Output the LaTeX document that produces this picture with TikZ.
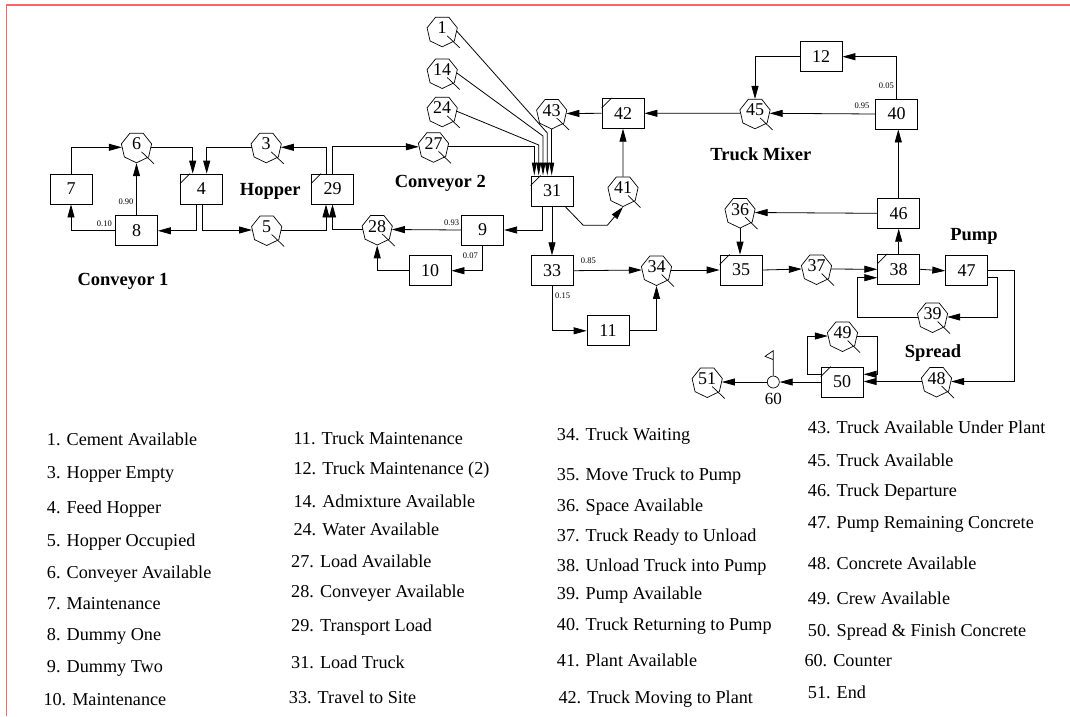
\documentclass[tikz,border=0pt]{standalone}
\usepackage{fontspec}
\setmainfont{Liberation Serif}
\usetikzlibrary{shapes.geometric,arrows.meta}
\begin{document}
\begin{tikzpicture}[x=1pt,y=-1pt,
  box/.style={draw, line width=0.8pt, minimum width=42pt, minimum height=30pt, inner sep=0pt, font=\fontsize{18}{18}\selectfont},
  hep/.style={draw, line width=0.7pt, regular polygon, regular polygon sides=7, regular polygon rotate=180, minimum size=31pt, inner sep=0pt, text height=12pt, text depth=6.8pt, font=\fontsize{18}{18}\selectfont},
  arr/.style={line width=0.8pt, -{Triangle[length=13pt,width=7pt]}},
  arrn/.style={line width=0.8pt, -{Triangle[length=13pt,width=4.8pt]}},
  lnk/.style={line width=0.8pt},
  prob/.style={font=\fontsize{8.5}{8.5}\selectfont, anchor=base west, inner sep=0pt},
  ttl/.style={font=\bfseries\fontsize{18.5}{18.5}\selectfont, anchor=base, inner sep=0pt},
  leg/.style={font=\fontsize{18.2}{18.2}\selectfont, anchor=base west, inner sep=0pt},
  frame/.style={draw=red!60, line width=1.4pt}
]
\useasboundingbox (0,0) rectangle (1070,716);
\draw[frame] (1070,5) -- (6.7,5) -- (6.7,716);

% boxes
\node[box] (b7)  at (71,189) {7};
\node[box] (b4)  at (201.3,189) {4};
\node[box] (b29) at (332.5,189) {29};
\node[box] (b8)  at (136.5,230.8) {8};
\node[box] (b31) at (552,191) {31};
\node[box] (b9)  at (482.7,230) {9};
\node[box] (b10) at (430,270.7) {10};
\node[box] (b33) at (552,270.7) {33};
\node[box] (b11) at (608,330.8) {11};
\node[box] (b42) at (623,113.3) {42};
\node[box] (b12) at (821,56.7) {12};
\node[box] (b40) at (896.7,114) {40};
\node[box] (b46) at (898.7,213.3) {46};
\node[box] (b35) at (741,270) {35};
\node[box] (b38) at (898.7,269.3) {38};
\node[box] (b47) at (966.7,270.8) {47};
\node[box] (b50) at (842.2,382) {50};
\foreach \b in {b4,b29,b31,b42,b35,b38,b50}
  \draw[line width=0.7pt] ([yshift=-10pt]\b.north west) -- ([xshift=10pt]\b.north west);

% heptagons
\node[hep] (h6)  at (136.5,147.3) {6};
\node[hep] (h3)  at (266.2,147.3) {3};
\node[hep] (h5)  at (266.7,230) {5};
\node[hep] (h27) at (433.5,146.8) {27};
\node[hep] (h1)  at (442.2,31.3) {1};
\node[hep] (h14) at (442.2,73) {14};
\node[hep] (h24) at (442.2,111.3) {24};
\node[hep] (h43) at (551.7,113.5) {43};
\node[hep] (h28) at (377.2,229.5) {28};
\node[hep] (h41) at (623,191) {41};
\node[hep] (h34) at (656.5,270) {34};
\node[hep] (h45) at (755,113.3) {45};
\node[hep] (h36) at (740,212.5) {36};
\node[hep] (h37) at (816.5,269) {37};
\node[hep] (h39) at (932.5,317) {39};
\node[hep] (h49) at (842.5,336) {49};
\node[hep] (h48) at (936.5,381.5) {48};
\node[hep] (h51) at (707.2,382) {51};
\foreach \h in {h6,h3,h5,h27,h1,h14,h24,h43,h28,h41,h34,h45,h36,h37,h39,h49,h48,h51}
  \draw[line width=0.7pt] (\h.center) ++(5,4.5) -- ++(12.5,12);

% counter
\node[draw, circle, line width=0.7pt, minimum size=12pt, inner sep=0pt] (c60) at (773.3,382) {};
\node[font=\fontsize{17}{17}\selectfont, anchor=base, inner sep=0pt] (t60) at (773.3,404) {60};
\draw[line width=0.7pt] (c60.north) -- ++(0,-25) coordinate (ftop) -- ++(-8.3,5.7) -- ++(8.3,3.3);

% titles
\node[ttl] (tHop) at (270.3,195.7) {Hopper};
\node[ttl] (tC1)  at (123,285) {Conveyor 1};
\node[ttl] (tC2)  at (440.3,187.7) {Conveyor 2};
\node[ttl] (tTM)  at (760.8,160) {Truck Mixer};
\node[ttl] (tPu)  at (974,240) {Pump};
\node[ttl] (tSp)  at (933,357.7) {Spread};

% probabilities
\node[prob] (p90) at (118.3,204) {0.90};
\node[prob] (p10) at (96.7,226.7) {0.10};
\node[prob] (p93) at (444,225.3) {0.93};
\node[prob] (p07) at (462.7,258.3) {0.07};
\node[prob] (p85) at (580.7,263.3) {0.85};
\node[prob] (p15) at (555,298.5) {0.15};
\node[prob] (p95) at (854.3,108.7) {0.95};
\node[prob] (p05) at (878.7,88.3) {0.05};

% connectors: conveyor 1 / hopper
\draw[arr] (b7.north) |- (h6.180);
\draw[arr] (b8.north) -- (h6.270);
\draw[arr] (b8.west) -| (b7.south);
\draw[arr] (h6.0) -| ([xshift=-8.6pt]b4.north);
\draw[arr] (h3.180) -| ([xshift=5.4pt]b4.north);
\draw[arr] ([xshift=-6.5pt]b29.north) |- (h3.0);
\draw[arr] ([xshift=-4.6pt]b4.south) |- (b8.east);
\draw[arr] ([xshift=1.4pt]b4.south) |- (h5.180);
\draw[arr] (h5.0) -| ([xshift=-6.5pt]b29.south);
\draw[arr] (h28.180) -| (b29.south);
\draw[arr] (b29.north) |- (h27.180);

% conveyor 2 / loading
\draw[arrn] (h27.0) -| ([xshift=-17.7pt]b31.north);
\draw[arrn] (h24.0) -- (538.7,145) -- ([xshift=-13.3pt]b31.north);
\draw[arrn] (h14.0) -- (543,136) -- ([xshift=-9pt]b31.north);
\draw[arrn] (h1.0) -- (547.3,133) -- ([xshift=-4.7pt]b31.north);
\draw[arrn] (h43.270) -- (h43.270 |- b31.north);
\draw[arr] (b42.west) -- (h43.0);
\draw[arr] (h41.90) -- (b42.south);
\draw[arr] ([xshift=13pt]b31.south) -- (583.3,225.3) -- (607.3,225.3) -- (h41.270);
\draw[arr] ([xshift=-9.7pt]b31.south) |- (b9.east);
\draw[arr] (b9.west) -- (h28.0);
\draw[arr] (b9.south) |- (b10.east);
\draw[arr] (b10.west) -| (h28.270);
\draw[arr] (b31.south) -- (b33.north);

% truck
\draw[arr] (b33.east) -- (h34.180);
\draw[arr] (b33.south) |- (b11.west);
\draw[arr] (b11.east) -| (h34.270);
\draw[arr] (h34.0) -- (b35.west);
\draw[arr] (h36.270) -- (h36.270 |- b35.north);
\draw[arr] (b35.east) -- (h37.180);
\draw[arr] (h37.0) -- (b38.west);
\draw[arr] (b38.north) -- (b46.south);
\draw[arr] (b46.west) -- (h36.0);
\draw[arr] ([xshift=-0.4pt]b46.north) -- ([xshift=-0.4pt]b46.north |- b40.south);
\draw[arr] (b40.west) -- (h45.0);
\draw[arr] (b40.north) |- (b12.east);
\draw[arr] (b12.west) -| (h45.90);
\draw[arr] (h45.180) -- (b42.east);

% pump / spread
\draw[arr] (b38.east) -- (b47.west);
\coordinate (k47) at (997.7,317);
\draw[arr] ([yshift=-6.9pt]b47.east) -| (k47) -- (h39.0);
\coordinate (k39) at (857.3,277.7);
\draw[arr] (h39.180) -| (k39) -- ([yshift=-8.4pt]b38.west);
\coordinate (k48) at (1014.3,381.5);
\draw[arr] ([yshift=0.8pt]b47.east) -| (k48) -- (h48.0);
\draw[arr] (h48.180) -- (h48.180 -| b50.east);
\coordinate (k49) at (877.7,374.3);
\draw[arr] (h49.0) -| (k49) -- ([yshift=7.7pt]b50.east);
\coordinate (k50) at (807.3,374.3);
\draw[arr] ([yshift=7.7pt]b50.west) -- (k50) |- (h49.180);
\draw[arr] (b50.west) -- (c60.east);
\draw[arr] (c60.west) -- (h51.0);

% legend
\node[leg] (L1)  at (46.7,445)   {1. Cement Available};
\node[leg] (L3)  at (46.7,478.3) {3. Hopper Empty};
\node[leg] (L4)  at (46.7,513.3) {4. Feed Hopper};
\node[leg] (L5)  at (46.7,546)   {5. Hopper Occupied};
\node[leg] (L6)  at (46.7,578.3) {6. Conveyer Available};
\node[leg] (L7)  at (46.7,609)   {7. Maintenance};
\node[leg] (L8)  at (46.7,640)   {8. Dummy One};
\node[leg] (L9)  at (46.7,672.7) {9. Dummy Two};
\node[leg] (L10) at (43.3,705)   {10. Maintenance};
\node[leg] (L11) at (293.3,444)  {11. Truck Maintenance};
\node[leg] (L12) at (293.3,474)  {12. Truck Maintenance (2)};
\node[leg] (L14) at (293.3,507.3) {14. Admixture Available};
\node[leg] (L24) at (293.3,535)  {24. Water Available};
\node[leg] (L27) at (291,567.3)  {27. Load Available};
\node[leg] (L28) at (291,597.3)  {28. Conveyer Available};
\node[leg] (L29) at (291,631.7)  {29. Transport Load};
\node[leg] (L31) at (291,668.3)  {31. Load Truck};
\node[leg] (L33) at (288.7,703.3) {33. Travel to Site};
\node[leg] (L34) at (556.7,440.7) {34. Truck Waiting};
\node[leg] (L35) at (556.7,480)  {35. Move Truck to Pump};
\node[leg] (L36) at (556.7,511)  {36. Space Available};
\node[leg] (L37) at (556.7,541)  {37. Truck Ready to Unload};
\node[leg] (L38) at (556.7,571.7) {38. Unload Truck into Pump};
\node[leg] (L39) at (556.7,599.3) {39. Pump Available};
\node[leg] (L40) at (556.7,630)  {40. Truck Returning to Pump};
\node[leg] (L41) at (556.7,666.7) {41. Plant Available};
\node[leg] (L42) at (558.3,703.3) {42. Truck Moving to Plant};
\node[leg] (L43) at (807.7,433.3) {43. Truck Available Under Plant};
\node[leg] (L45) at (807.7,466)  {45. Truck Available};
\node[leg] (L46) at (807.7,496.7) {46. Truck Departure};
\node[leg] (L47) at (807.7,528.3) {47. Pump Remaining Concrete};
\node[leg] (L48) at (807.7,569.3) {48. Concrete Available};
\node[leg] (L49) at (807.7,604)  {49. Crew Available};
\node[leg] (L50) at (807.7,636.7) {50. Spread \& Finish Concrete};
\node[leg] (L60) at (804.3,666)  {60. Counter};
\node[leg] (L51) at (807.7,698.3) {51. End};
\end{tikzpicture}
\end{document}
